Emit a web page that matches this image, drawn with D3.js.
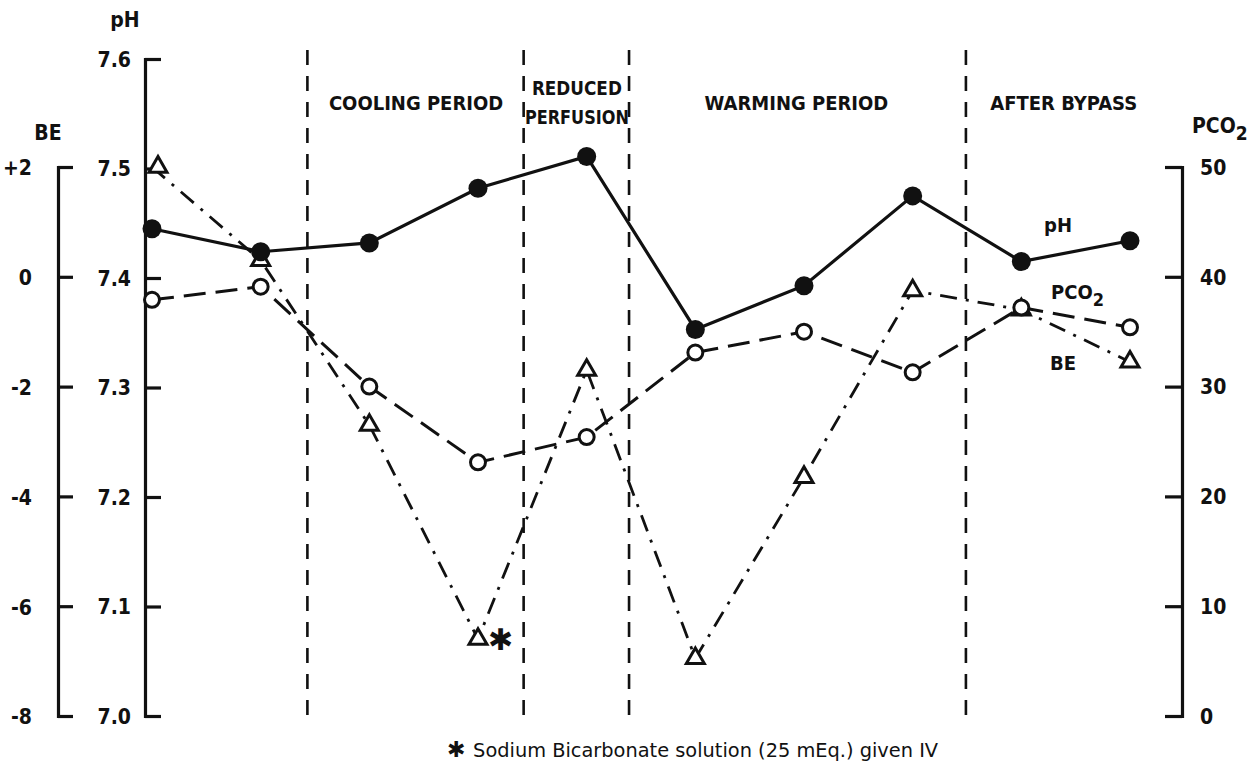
<!DOCTYPE html>
<html><head><meta charset="utf-8">
<script src="https://cdn.jsdelivr.net/npm/d3@7"></script>
<style>
body{margin:0;background:#fff;}
text{font-family:"Liberation Sans Narrow","DejaVu Sans Condensed","Liberation Sans",sans-serif;font-weight:bold;fill:#111;}
</style></head>
<body>
<svg id="c" width="1254" height="769"></svg>
<script>
// ---- data ----
const samples = [0,1,2,3,4,5,6,7,8,9];
const pH   = [7.445,7.424,7.432,7.482,7.511,7.353,7.393,7.475,7.415,7.434];
const pco2 = [37.9,39.1,30.0,23.1,25.4,33.1,35.0,31.3,37.2,35.4];
const be   = [2.0,0.3,-2.7,-6.6,-1.7,-6.95,-3.65,-0.25,-0.6,-1.55];
const pHTicks = ["7.0","7.1","7.2","7.3","7.4","7.5","7.6"];
const beTicks = [-8,-6,-4,-2,0,2];
const pco2Ticks = [0,10,20,30,40,50];
const dividers = [1.43,3.42,4.39,7.49];
const periods = [
  {x:2.43, lines:["COOLING PERIOD"]},
  {x:3.91, lines:["REDUCED","PERFUSION"]},
  {x:5.93, lines:["WARMING PERIOD"]},
  {x:8.39, lines:["AFTER BYPASS"]}
];
const bicarbIndex = 3;

// ---- scales ----
const svg = d3.select("#c");
const x = d3.scaleLinear().domain([0,9]).range([152,1130]);
const yPH = d3.scaleLinear().domain([7.0,7.6]).range([716,59]);
const yBE = d3.scaleLinear().domain([-8,2]).range([716,167]);
const yPC = d3.scaleLinear().domain([0,50]).range([716,167]);

const axisStyle = g => {
  g.select(".domain").attr("stroke","#111").attr("stroke-width",3.2).attr("fill","none");
  g.selectAll(".tick line").attr("stroke","#111").attr("stroke-width",3.2);
  g.selectAll("text").attr("font-size",21).attr("fill","#111")
   .attr("font-family",'"Liberation Sans Narrow","DejaVu Sans Condensed",sans-serif').attr("font-weight","bold");
};

// pH axis
const gPH = svg.append("g").attr("transform","translate(145,0)")
  .call(d3.axisRight(yPH).tickValues(pHTicks.map(Number)).tickFormat((d,i)=>pHTicks[i]).tickSize(16).tickSizeOuter(14));
axisStyle(gPH);
gPH.selectAll("text").attr("x",-14).attr("text-anchor","end").attr("dy","0.35em");

// BE axis
const gBE = svg.append("g").attr("transform","translate(58,0)")
  .call(d3.axisRight(yBE).tickValues(beTicks).tickFormat(d=>d>0?"+"+d:String(d)).tickSize(15).tickSizeOuter(14));
axisStyle(gBE);
gBE.selectAll("text").attr("x",-26).attr("text-anchor","end").attr("dy","0.38em");

// PCO2 axis
const gPC = svg.append("g").attr("transform","translate(1182,0)")
  .call(d3.axisLeft(yPC).tickValues(pco2Ticks).tickSize(17).tickSizeOuter(17));
axisStyle(gPC);
gPC.selectAll("text").attr("x",18).attr("text-anchor","start").attr("dy","0.35em");

// axis titles
svg.append("text").attr("x",125).attr("y",27).attr("font-size",21).attr("text-anchor","middle").text("pH");
svg.append("text").attr("x",48).attr("y",140).attr("font-size",21).attr("text-anchor","middle").text("BE");
const pt = svg.append("text").attr("x",1192).attr("y",133).attr("font-size",21);
pt.append("tspan").text("PCO");
pt.append("tspan").attr("dy",7).attr("font-size",19).text("2");

// dividers
svg.selectAll(".div").data(dividers).enter().append("line")
  .attr("x1",d=>x(d)).attr("x2",d=>x(d)).attr("y1",50).attr("y2",716)
  .attr("stroke","#111").attr("stroke-width",2.6).attr("stroke-dasharray","15,11");

// period labels
periods.forEach(p=>{
  const n = p.lines.length;
  p.lines.forEach((t,i)=>{
    const tx = svg.append("text").attr("x",x(p.x)).attr("y", n===1?110:95+i*29)
      .attr("font-size",n===1?20:19).attr("text-anchor","middle").text(t);
    if(n>1) tx.attr("textLength", i===0?90:104).attr("lengthAdjust","spacingAndGlyphs");
  });
});

// lines
const line = (ys,arr)=>d3.line().x((d,i)=>x(samples[i])).y((d,i)=>ys(arr[i]))(arr);
svg.append("path").attr("d",line(yBE,be)).attr("fill","none").attr("stroke","#111")
  .attr("stroke-width",2.8).attr("stroke-dasharray","17,9,3,9");
svg.append("path").attr("d",line(yPC,pco2)).attr("fill","none").attr("stroke","#111")
  .attr("stroke-width",3).attr("stroke-dasharray","22,10");
svg.append("path").attr("d",line(yPH,pH)).attr("fill","none").attr("stroke","#111")
  .attr("stroke-width",3.2);

// markers
const tri = d3.symbol().type(d3.symbolTriangle).size(140);
svg.selectAll(".be").data(be).enter().append("path")
  .attr("d",tri).attr("transform",(d,i)=>`translate(${x(samples[i])+(i===0?6:0)},${yBE(d)})`)
  .attr("fill","#fff").attr("stroke","#111").attr("stroke-width",3);
svg.selectAll(".pc").data(pco2).enter().append("circle")
  .attr("cx",(d,i)=>x(samples[i])).attr("cy",d=>yPC(d)).attr("r",7.5)
  .attr("fill","#fff").attr("stroke","#111").attr("stroke-width",3);
svg.selectAll(".ph").data(pH).enter().append("circle")
  .attr("cx",(d,i)=>x(samples[i])).attr("cy",d=>yPH(d)).attr("r",9.5).attr("fill","#111");

// asterisk
svg.append("text").attr("x",x(bicarbIndex)+10).attr("y",yBE(be[bicarbIndex])+11)
  .style("font-family","DejaVu Sans").style("font-size","30px").text("\u2731");

// series labels
svg.append("text").attr("x",1058).attr("y",232).attr("font-size",20).attr("text-anchor","middle").text("pH");
const pl = svg.append("text").attr("x",1051).attr("y",299).attr("font-size",20);
pl.append("tspan").text("PCO");
pl.append("tspan").attr("dy",7).attr("font-size",18).text("2");
svg.append("text").attr("x",1063).attr("y",370).attr("font-size",20).attr("text-anchor","middle").text("BE");

// footnote
const fn = svg.append("text").attr("x",447).attr("y",757).attr("text-anchor","start")
  .style("font-size","19px").style("font-weight","normal")
  .style("font-family",'"DejaVu Sans Condensed","Liberation Sans",sans-serif');
fn.append("tspan").style("font-family","DejaVu Sans").style("font-weight","bold").style("font-size","22px").text("\u2731 ");
fn.append("tspan").attr("textLength",465).attr("lengthAdjust","spacingAndGlyphs")
  .text("Sodium Bicarbonate solution (25 mEq.) given IV");
</script>
</body></html>
